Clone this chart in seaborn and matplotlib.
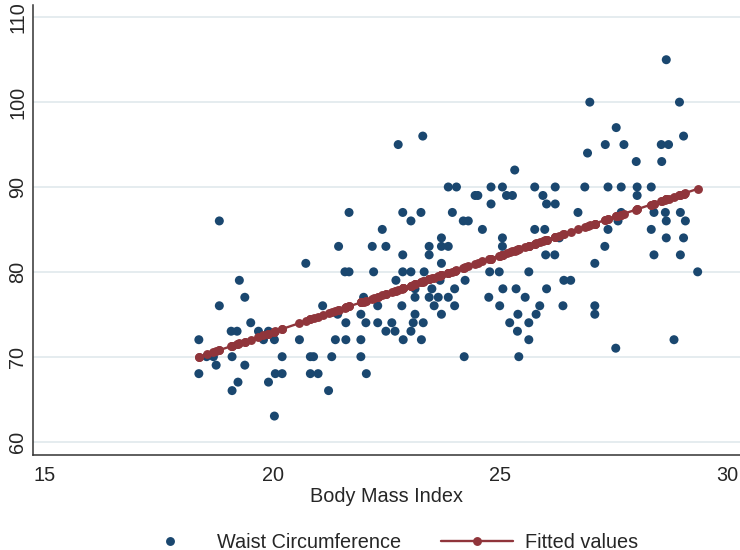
import numpy as np
import pandas as pd
import seaborn as sns
import matplotlib
matplotlib.use("Agg")
import matplotlib.pyplot as plt
from matplotlib.lines import Line2D

# ---- data ----
bmi = [
    18.83, 19.27, 19.39, 18.83, 19.52, 18.38, 19.09, 19.22, 19.11, 18.38, 18.76, 19.39, 19.24, 19.11, 18.55, 18.70,
    21.45, 21.68, 20.73, 21.59, 21.68, 21.10, 19.69, 19.91, 19.80, 20.04, 20.59, 21.38, 21.61, 21.43, 21.61, 20.21,
    20.83, 20.90, 21.30, 19.91, 20.06, 20.21, 20.83, 21.00, 21.23, 20.04,
    22.76, 23.30, 25.32, 23.86, 24.04, 24.80, 25.05, 24.45, 24.51, 25.14, 25.27, 24.80, 22.86, 23.26, 23.04, 23.95,
    24.19, 24.30, 22.41, 24.61, 22.19, 22.49, 23.44, 23.71, 23.71, 23.86, 25.05, 25.05, 22.86, 23.44, 23.71, 22.22,
    22.86, 23.04, 23.33, 24.77, 24.98, 25.63, 22.71, 23.68, 24.23, 23.13, 23.50, 24.00, 25.06, 25.35, 25.55, 22.00,
    23.13, 23.44, 23.64, 23.86, 24.75, 22.31, 22.84, 23.55, 24.00, 24.99, 21.94, 23.13, 23.71, 22.05, 22.31, 22.62,
    23.09, 23.31, 25.21, 25.39, 22.49, 22.69, 23.04, 25.38, 21.94, 22.87, 23.27, 25.63, 21.94, 24.21, 25.41, 22.06,
    26.97, 26.92, 27.31, 25.76, 26.21, 26.86, 27.37, 25.94, 26.02, 26.21, 26.71, 25.76, 25.98, 27.37, 27.30, 26.00,
    26.20, 26.30, 27.08, 26.02, 26.40, 26.55, 25.87, 26.38, 27.08, 27.08, 25.79, 25.63,
    28.65, 28.94, 27.55, 29.03, 27.72, 28.54, 28.70, 27.99, 28.55, 27.66, 28.01, 28.32, 28.01, 27.66, 27.59, 28.38,
    28.63, 28.65, 28.96, 29.07, 28.32, 28.65, 29.03, 28.38, 28.96, 29.34, 28.82, 27.54,
]
waist = [
    86, 79, 77, 76, 74, 72, 73, 73, 70, 68, 69, 69, 67, 66, 70, 70,
    83, 87, 81, 80, 80, 76, 73, 73, 72, 72, 72, 72, 72, 75, 74, 70,
    70, 70, 70, 67, 68, 68, 68, 68, 66, 63,
    95, 96, 92, 90, 90, 90, 90, 89, 89, 89, 89, 88, 87, 87, 86, 87,
    86, 86, 85, 85, 83, 83, 83, 84, 83, 83, 84, 83, 82, 82, 81, 80,
    80, 80, 80, 80, 80, 80, 79, 79, 79, 78, 78, 78, 78, 78, 77, 77,
    77, 77, 77, 77, 77, 76, 76, 76, 76, 76, 75, 75, 75, 74, 74, 74,
    74, 74, 74, 75, 73, 73, 73, 73, 72, 72, 72, 72, 70, 70, 70, 68,
    100, 94, 95, 90, 90, 90, 90, 89, 88, 88, 87, 85, 85, 85, 83, 82,
    82, 84, 81, 78, 79, 79, 76, 76, 76, 75, 75, 74,
    105, 100, 97, 96, 95, 95, 95, 93, 93, 90, 90, 90, 89, 87, 86, 87,
    87, 86, 87, 86, 85, 84, 84, 82, 82, 80, 72, 71,
]
x_ticks = [15, 20, 25, 30]
y_ticks = [60, 70, 80, 90, 100, 110]
series_labels = ["Waist Circumference", "Fitted values"]
x_title = "Body Mass Index"

navy = "#1a476f"
maroon = "#90353b"
grid_col = "#e3ebee"
fs = 14.3

df = pd.DataFrame({"bmi": bmi, "waist": waist})
slope, intercept = np.polyfit(df["bmi"], df["waist"], 1)
df["fitted"] = intercept + slope * df["bmi"]
df = df.sort_values("bmi")

sns.set_style("white")
plt.rcParams["font.family"] = ["Liberation Sans", "DejaVu Sans"]

fig = plt.figure(figsize=(7.4, 5.5), dpi=100)
ax = fig.add_axes([33 / 740, 1 - 454.5 / 550, 1 - 33 / 740, (454.5 - 5) / 550])

for yv in y_ticks:
    ax.axhline(yv, color=grid_col, lw=1.3, zorder=0)

sns.scatterplot(data=df, x="bmi", y="waist", ax=ax, color=navy, s=42,
                edgecolor="none", linewidth=0, zorder=3, legend=False)
sns.lineplot(data=df, x="bmi", y="fitted", ax=ax, color=maroon, lw=1.7,
             marker="o", markersize=6.4, markeredgewidth=0, estimator=None,
             sort=True, zorder=4, legend=False)

ax.set_xlim(14.736, 30.27)
ax.set_ylim(58.47, 111.45)
ax.set_xticks(x_ticks)
ax.set_yticks(y_ticks)
ax.set_xticklabels([str(t) for t in x_ticks], fontsize=fs)
ax.set_yticklabels([str(t) for t in y_ticks], fontsize=fs, rotation=90, va="center")
ax.tick_params(axis="both", direction="out", length=5, width=1, color="#333333")
ax.tick_params(axis="x", pad=3)
ax.tick_params(axis="y", pad=-1)

for s in ["top", "right"]:
    ax.spines[s].set_visible(False)
for s in ["left", "bottom"]:
    ax.spines[s].set_color("#333333")
    ax.spines[s].set_linewidth(1.1)

ax.set_ylabel("")
ax.set_xlabel(x_title, fontsize=fs)
ax.xaxis.set_label_coords(0.5, (454.5 - 487) / 449.5)

handles = [
    Line2D([], [], marker="o", color=navy, linestyle="none", markersize=6.4, markeredgewidth=0),
    Line2D([], [], marker="o", color=maroon, lw=1.7, markersize=6.4, markeredgewidth=0),
]
fig.legend(handles, series_labels, loc="center left", bbox_to_anchor=(134 / 740, 1 - 542 / 550),
           ncol=2, frameon=False, fontsize=fs, borderpad=0, borderaxespad=0,
           handlelength=3.6, handletextpad=0.6, columnspacing=2.0)

fig.savefig("out.png", dpi=100)
